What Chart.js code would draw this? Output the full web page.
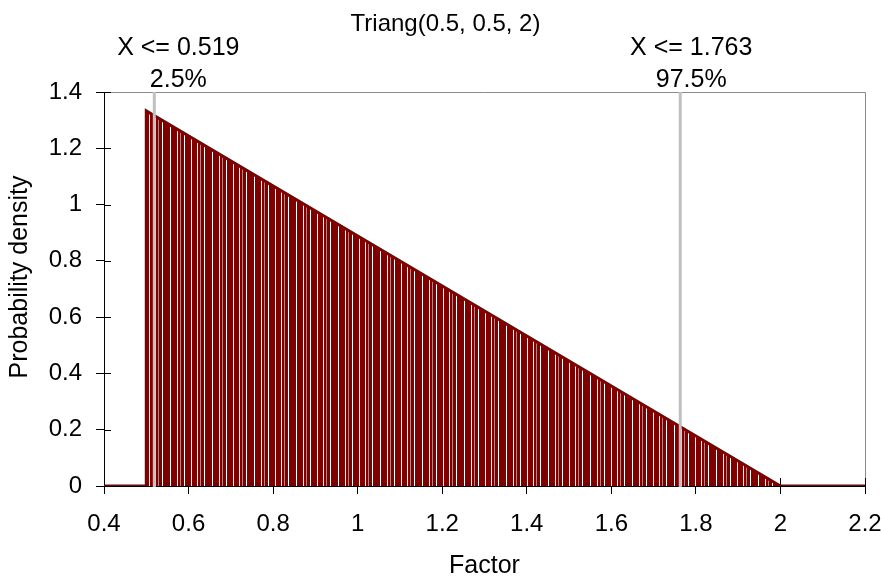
<!DOCTYPE html>
<html>
<head>
<meta charset="utf-8">
<script src="https://cdn.jsdelivr.net/npm/chart.js@4.4.1/dist/chart.umd.min.js"></script>
<style>
html, body { margin: 0; padding: 0; background: #fff; }
#wrap { width: 881px; height: 577px; }
</style>
</head>
<body>
<div id="wrap"><canvas id="chart" width="881" height="577"></canvas></div>
<script>
// data
const chartTitle = "Triang(0.5, 0.5, 2)";
const xTitle = "Factor";
const yTitle = "Probability density";
const densityX = [0.4, 0.5, 0.5, 2.0, 2.2];
const densityY = [0, 0, 1.333, 0, 0];
const markerValues = [0.519, 1.763];
const markerLabels = ["X <= 0.519", "X <= 1.763"];
const markerPercents = ["2.5%", "97.5%"];
const xTicks = [0.4, 0.6, 0.8, 1, 1.2, 1.4, 1.6, 1.8, 2, 2.2];
const yTicks = [0, 0.2, 0.4, 0.6, 0.8, 1, 1.2, 1.4];

const FONT = "'Liberation Sans', Arial, sans-serif";
const DARK_RED = "#800000";
const markerShift = [24, 11]; // label offset from its line, px

// striped fill, like the many thin histogram bars
function makeStripes() {
    const c = document.createElement("canvas");
    c.width = 42;
    c.height = 4;
    const g = c.getContext("2d");
    g.fillStyle = DARK_RED;
    g.fillRect(0, 0, 42, 4);
    const white = [2, 9, 16, 23, 29, 36];
    const pale = [12, 32];
    g.fillStyle = "#ffffff";
    white.forEach(x => g.fillRect(x, 0, 1, 4));
    g.fillStyle = "rgba(255,255,255,0.5)";
    pale.forEach(x => g.fillRect(x, 0, 1, 4));
    return g.createPattern(c, "repeat");
}

const decorPlugin = {
    id: "decor",
    beforeDatasetsDraw(chart) {
        const { ctx, chartArea: a, scales } = chart;
        ctx.save();
        // grey frame top/right
        ctx.strokeStyle = "#8c8c8c";
        ctx.lineWidth = 1;
        ctx.beginPath();
        ctx.moveTo(a.left, a.top + 0.5);
        ctx.lineTo(a.right + 0.5, a.top + 0.5);
        ctx.lineTo(a.right + 0.5, a.bottom);
        ctx.stroke();
        // inner half of the crossing ticks
        ctx.strokeStyle = "#000";
        ctx.beginPath();
        yTicks.forEach(v => {
            const y = Math.round(scales.y.getPixelForValue(v)) + 0.5;
            ctx.moveTo(a.left, y);
            ctx.lineTo(a.left + 7, y);
        });
        xTicks.forEach(v => {
            const x = Math.round(scales.x.getPixelForValue(v)) + 0.5;
            ctx.moveTo(x, a.bottom);
            ctx.lineTo(x, a.bottom - 8);
        });
        ctx.stroke();
        ctx.restore();
    },
    afterDatasetsDraw(chart) {
        const { ctx, chartArea: a, scales } = chart;
        ctx.save();
        ctx.strokeStyle = "#c0c0c0";
        ctx.lineWidth = 3;
        markerValues.forEach(v => {
            const x = scales.x.getPixelForValue(v);
            ctx.beginPath();
            ctx.moveTo(x, a.top);
            ctx.lineTo(x, a.bottom + 1);
            ctx.stroke();
        });

        ctx.fillStyle = "#000";
        ctx.textAlign = "center";
        ctx.textBaseline = "alphabetic";
        ctx.font = "24px " + FONT;
        ctx.fillText(chartTitle, chart.width / 2 + 5, 31);
        ctx.font = "25px " + FONT;
        markerValues.forEach((v, i) => {
            const x = scales.x.getPixelForValue(v) + markerShift[i];
            ctx.fillText(markerLabels[i], x, 55);
            ctx.fillText(markerPercents[i], x, 87);
        });

        ctx.fillText(xTitle, (a.left + a.right) / 2, 573);
        ctx.translate(27, 277);
        ctx.rotate(-Math.PI / 2);
        ctx.fillText(yTitle, 0, 0);
        ctx.restore();
    }
};

const points = densityX.map((x, i) => ({ x: x, y: densityY[i] }));

new Chart(document.getElementById("chart"), {
    type: "line",
    data: {
        datasets: [{
            data: points,
            borderColor: DARK_RED,
            borderWidth: 3,
            backgroundColor: makeStripes(),
            fill: "origin",
            pointRadius: 0,
            tension: 0
        }]
    },
    options: {
        responsive: false,
        animation: false,
        devicePixelRatio: 1,
        layout: { padding: { top: 92, right: 16, left: 0, bottom: 0 } },
        plugins: { legend: { display: false }, tooltip: { enabled: false } },
        scales: {
            x: {
                type: "linear",
                min: 0.4,
                max: 2.2,
                afterBuildTicks: s => { s.ticks = xTicks.map(v => ({ value: v })); },
                afterFit: s => {
                    s.height = 91;
                    s.paddingLeft = 0;
                    s.paddingRight = 0;
                },
                grid: { drawOnChartArea: false, tickLength: 8, color: "#000" },
                border: { color: "#000" },
                ticks: {
                    padding: 16,
                    maxRotation: 0,
                    color: "#000",
                    font: { family: FONT, size: 24 },
                    callback: v => String(v)
                }
            },
            y: {
                min: 0,
                max: 1.4,
                afterBuildTicks: s => { s.ticks = yTicks.map(v => ({ value: v })); },
                afterFit: s => {
                    s.width = 104;
                    s.paddingTop = 0;
                    s.paddingBottom = 0;
                },
                grid: { drawOnChartArea: false, tickLength: 8, color: "#000" },
                border: { color: "#000" },
                ticks: {
                    padding: 14,
                    color: "#000",
                    font: { family: FONT, size: 24 },
                    callback: v => String(v)
                }
            }
        }
    },
    plugins: [decorPlugin]
});
</script>
</body>
</html>
